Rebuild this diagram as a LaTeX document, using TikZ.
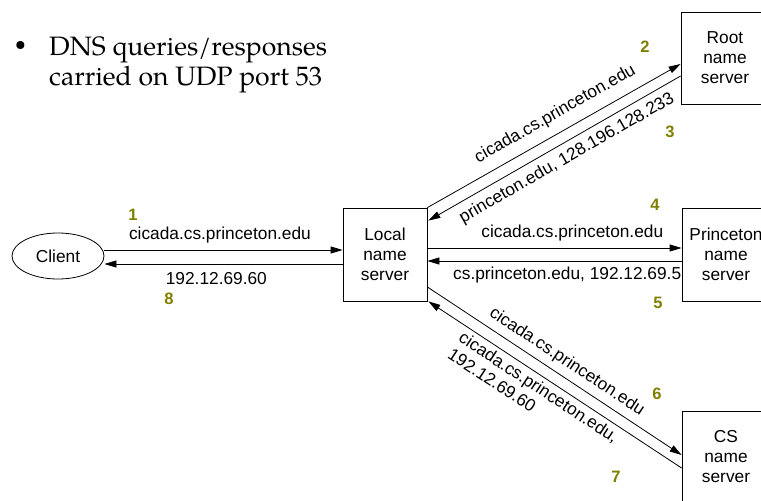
\documentclass[tikz,border=0pt]{standalone}
\usepackage{fontspec}
\setsansfont{Liberation Sans}
\newfontfamily\palfont{TeX Gyre Pagella}
\usetikzlibrary{arrows.meta,shapes.geometric,calc}
\definecolor{numcol}{RGB}{128,128,0}
\begin{document}
\begin{tikzpicture}[x=1pt,y=-1pt,
  lbl/.style={font=\sffamily\fontsize{17.3}{20}\selectfont, inner sep=1pt},
  num/.style={font=\sffamily\bfseries\fontsize{16.5}{18}\selectfont, text=numcol, inner sep=0pt},
  srv/.style={draw, line width=0.8pt, fill=white, align=center, inner sep=0pt,
    font=\sffamily\fontsize{17.3}{20}\selectfont, minimum width=88pt, minimum height=92pt},
  title/.style={font=\palfont\fontsize{26.6}{30}\selectfont, inner sep=0pt, anchor=base west},
  conn/.style={line width=0.8pt},
  arr/.style={conn, -{Triangle[length=12pt,width=7pt]}},
  rarr/.style={conn, {Triangle[length=12pt,width=7pt]}-}
]
\useasboundingbox[fill=white] (0,0) rectangle (761,501);

% title
\node[font=\palfont\fontsize{20}{24}\selectfont, inner sep=0pt] (bul) at (20.5,46) {\textbullet};
\node[title] (t1) at (49,55) {DNS queries/responses};
\node[title] (t2) at (49,85) {carried on UDP port 53};

% nodes
\node[draw, ellipse, line width=0.8pt, minimum width=92pt, minimum height=46pt, inner sep=0pt,
  font=\sffamily\fontsize{17.3}{20}\selectfont] (client) at (58,256) {Client};
\node[srv, minimum width=84pt, minimum height=93pt] (local) at (385,254.5) {Local\\name\\server};
\node[srv] (root) at (725,58) {Root\\name\\server};
\node[srv, minimum height=93pt] (prin) at (726,254.5) {Princeton\\name\\server};
\node[srv] (cs) at (726,457) {CS\\name\\server};

% client <-> local
\draw[arr] ($(client.east)+(0,-6)$) -- node[lbl, above=6pt, pos=0.485] {cicada.cs.princeton.edu} ($(local.west)+(0,-4.5)$);
\draw[rarr] ($(client.east)+(0,8)$) -- node[lbl, below=7pt, pos=0.47] {192.12.69.60} ($(local.west)+(0,9.5)$);

% local <-> root
\draw[arr] (local.north east) -- node[lbl, sloped, above=8.5pt, pos=0.54] {cicada.cs.princeton.edu} ($(root.west)+(0,6)$);
\draw[rarr] ($(local.north east)+(1,13)$) -- node[lbl, sloped, below=5.5pt, pos=0.52] {princeton.edu, 128.196.128.233} ($(root.west)+(0,18)$);

% local <-> princeton
\draw[arr] ($(local.east)+(0,-6.5)$) -- node[lbl, above=6pt, pos=0.57] {cicada.cs.princeton.edu} ($(prin.west)+(0,-6.5)$);
\draw[rarr] ($(local.east)+(0,6.5)$) -- node[lbl, below=5pt, pos=0.55] {cs.princeton.edu, 192.12.69.5} ($(prin.west)+(0,6.5)$);

% local <-> cs
\draw[arr] ($(local.east)+(0,32.5)$) -- node[lbl, sloped, above=5pt, pos=0.517] {cicada.cs.princeton.edu} ($(cs.west)+(0,-2)$);
\draw[rarr] ($(local.south east)+(1,0)$) -- node[lbl, sloped, below=3pt, pos=0.46, align=left] {cicada.cs.princeton.edu,\\192.12.69.60} ($(cs.west)+(0,11)$);

% step numbers
\node[num] (n1) at (133,215) {1};
\node[num] (n2) at (645,47) {2};
\node[num] (n3) at (670,132) {3};
\node[num] (n4) at (655,205) {4};
\node[num] (n5) at (658,303) {5};
\node[num] (n6) at (657,394) {6};
\node[num] (n7) at (616,477) {7};
\node[num] (n8) at (169,299) {8};
\end{tikzpicture}
\end{document}
